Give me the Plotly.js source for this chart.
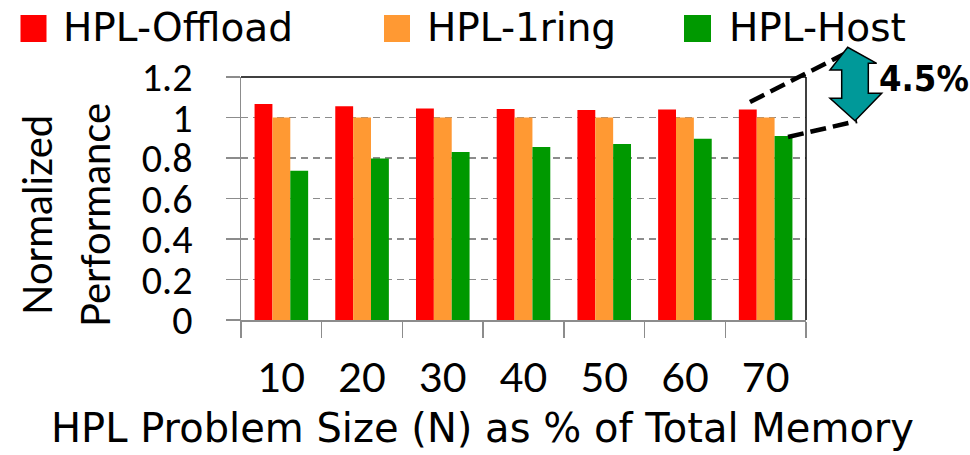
<!DOCTYPE html>
<html>
<head>
<meta charset="utf-8">
<script src="https://cdn.plot.ly/plotly-3.0.1.min.js"></script>
<style>
html,body{margin:0;padding:0;background:#fff;}
#chart{width:970px;height:455px;}
</style>
</head>
<body>
<div id="chart"></div>
<script>
// ---- data ----
const categories = ['10', '20', '30', '40', '50', '60', '70'];
const hplOffload = [1.067, 1.055, 1.045, 1.042, 1.037, 1.039, 1.039];
const hpl1ring   = [1.0, 1.0, 1.0, 1.0, 1.0, 1.0, 1.0];
const hplHost    = [0.737, 0.797, 0.830, 0.854, 0.869, 0.895, 0.909];
const seriesNames = ['HPL-Offload', 'HPL-1ring', 'HPL-Host'];
const gapLabel = '4.5%';
const xTitle = 'HPL Problem Size (N) as % of Total Memory';
const yTitleLines = ['Normalized', 'Performance'];

// ---- style ----
const colors = ['#FF0000', '#FF9933', '#009900'];
const comicWide = 'Comic Sans MS, DejaVu Sans, sans-serif';
const comicNarrow = 'Comic Sans MS, Lato, sans-serif';
const calibri = 'Calibri, Carlito, Lato, sans-serif';
const W = 970, H = 455;
const L = 241, R = 806, T = 77, B = 320;
const px = x => (x - L) / (R - L);
const py = y => (B - y) / (B - T);

const traces = [hplOffload, hpl1ring, hplHost].map((v, i) => ({
  type: 'bar', x: categories, y: v, name: seriesNames[i],
  marker: {color: colors[i], line: {width: 0}},
  showlegend: false, hoverinfo: 'x+y+name'
}));

// legend (drawn as shapes + text so symbol size matches the reference)
const legendSquares = [[20.5, 46.5], [384, 410], [684, 711]];
const legendTextX = [61, 425, 727];
const shapes = [];
const annotations = [];
legendSquares.forEach((s, i) => {
  shapes.push({type: 'rect', xref: 'paper', yref: 'paper',
    x0: px(s[0]), x1: px(s[1]), y0: py(42), y1: py(15),
    fillcolor: colors[i], line: {width: 0}});
  annotations.push({xref: 'paper', yref: 'paper', x: px(legendTextX[i]), y: py(28),
    xanchor: 'left', yanchor: 'middle', showarrow: false, text: seriesNames[i],
    font: {family: comicWide, size: 39, color: '#000'}});
});

// y-axis title (two lines, placed as in the reference)
const yTitleX = [37, 95];
yTitleLines.forEach((t, i) => {
  annotations.push({xref: 'paper', yref: 'paper', x: px(yTitleX[i]), y: py(215),
    xanchor: 'center', yanchor: 'middle', textangle: -90, showarrow: false, text: t,
    font: {family: comicNarrow, size: 40, color: '#000'}});
});

// x-axis title (centred on the figure as in the reference)
annotations.push({xref: 'paper', yref: 'paper', x: px(482), y: py(428),
  xanchor: 'center', yanchor: 'middle', showarrow: false, text: xTitle,
  font: {family: comicWide, size: 40, color: '#000'}});

// plot frame (top and right in black)
shapes.push({type: 'line', xref: 'paper', yref: 'paper', x0: 0, x1: 1, y0: 1, y1: 1,
  line: {color: '#000', width: 1.5}});
shapes.push({type: 'line', xref: 'paper', yref: 'paper', x0: 1, x1: 1, y0: 0, y1: 1,
  line: {color: '#000', width: 1.5}});

// dashed callout lines
shapes.push({type: 'line', xref: 'paper', yref: 'paper',
  x0: px(750), y0: py(102), x1: px(850), y1: py(51),
  line: {color: '#000', width: 4.5, dash: '16px,7px'}});
shapes.push({type: 'line', xref: 'paper', yref: 'paper',
  x0: px(788), y0: py(137), x1: px(857), y1: py(121),
  line: {color: '#000', width: 4.5, dash: '16px,7px'}});

// double-headed block arrow
const arrowPts = [[847.7, 47.3], [830, 70], [841.7, 70], [841.7, 98.3], [830, 98.3],
  [855, 120.7], [881.7, 93.3], [868.3, 93.3], [868.3, 63.3], [876.7, 63.3]];
const pathStr = 'M' + arrowPts.map(p => px(p[0]).toFixed(5) + ',' + py(p[1]).toFixed(5)).join(' L') + ' Z';
shapes.push({type: 'path', xref: 'paper', yref: 'paper', path: pathStr,
  fillcolor: '#009999', line: {color: '#000', width: 1.5}});

annotations.push({xref: 'paper', yref: 'paper', x: px(877), y: py(79),
  xanchor: 'left', yanchor: 'middle', showarrow: false, text: '<b>' + gapLabel + '</b>',
  font: {family: 'Comic Sans MS, Liberation Sans Narrow, DejaVu Sans Condensed, sans-serif', size: 36, color: '#000'}});

const layout = {
  width: W, height: H,
  margin: {l: L, r: W - R, t: T, b: H - B, pad: 0},
  paper_bgcolor: '#fff', plot_bgcolor: '#fff',
  barmode: 'group', bargap: 0.336, bargroupgap: 0,
  showlegend: false,
  xaxis: {
    type: 'category', tickson: 'boundaries', ticks: 'outside', ticklen: 16,
    tickcolor: '#8c8c8c', tickwidth: 1.5, showline: true, linecolor: '#8c8c8c', linewidth: 1.5,
    showgrid: false, ticklabelstandoff: 21,
    tickfont: {family: comicNarrow, size: 41, color: '#000'},
    automargin: false, fixedrange: true
  },
  yaxis: {
    range: [0, 1.2], dtick: 0.2, tick0: 0,
    showgrid: true, gridcolor: '#8c8c8c', gridwidth: 1.5, griddash: '7px,5px',
    zeroline: false, showline: true, linecolor: '#8c8c8c', linewidth: 1.5,
    ticks: 'outside', ticklen: 14, tickcolor: '#8c8c8c', tickwidth: 1.5,
    ticklabelstandoff: 25,
    tickfont: {family: calibri, size: 40, color: '#000'},
    automargin: false, fixedrange: true
  },
  yaxis2: {
    overlaying: 'y', side: 'left', range: [0, 1.2], dtick: 0.2, tick0: 0,
    showgrid: false, zeroline: false, showline: false, showticklabels: false,
    ticks: 'inside', ticklen: 9, tickcolor: '#8c8c8c', tickwidth: 1.5,
    automargin: false, fixedrange: true
  },
  shapes: shapes,
  annotations: annotations
};

Plotly.newPlot('chart', traces, layout, {displayModeBar: false, staticPlot: true});
</script>
</body>
</html>
